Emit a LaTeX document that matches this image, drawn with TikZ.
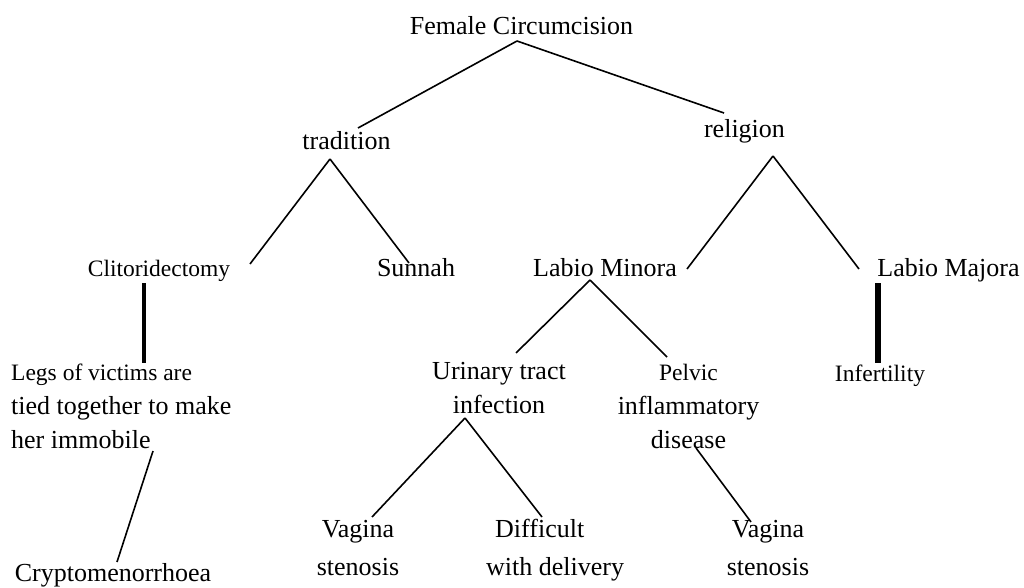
\documentclass[tikz,border=0pt]{standalone}
\usepackage{fontspec}
\setmainfont{Liberation Serif}
\usetikzlibrary{calc}
\begin{document}
\begin{tikzpicture}[
            x=1pt, y=1pt,
            every node/.style = {inner sep=0pt, anchor=base},
            lbl/.style = {font=\fontsize{26}{34}\selectfont},
            sml/.style = {font=\fontsize{23.5}{30}\selectfont},
            branch/.style = {line width=1.6pt},
            bar/.style = {line width=#1}
        ]
        \useasboundingbox (0,0) rectangle (1024,587);

        \node[lbl] (female) at (521.5,552) {Female Circumcision};
        \node[lbl] (tradition) at (346.5,437) {tradition};
        \node[lbl] (religion) at (744.5,449) {religion};
        \node[sml] (clito) at (159,311) {Clitoridectomy};
        \node[lbl] (sunnah) at (416,311) {Sunnah};
        \node[lbl] (minora) at (605,311) {Labio Minora};
        \node[lbl] (majora) at (948.5,311) {Labio Majora};
        \node[lbl, align=left, anchor=base west] (legs) at (11,139)
            {{\fontsize{23.5}{30}\selectfont Legs of victims are}\\tied together to make\\her immobile};
        \node[lbl] (crypto) at (113,6) {Cryptomenorrhoea};
        \node[lbl, align=center] (urinary) at (499,174) {Urinary tract\\infection};
        \node[lbl, align=center] (pelvic) at (688.5,139)
            {{\fontsize{23.5}{30}\selectfont Pelvic}\\inflammatory\\disease};
        \node[sml] (infert) at (880,206) {Infertility};
        \node[lbl, align=center] (stenosisA) at (358,12) {Vagina\\[4pt]stenosis};
        \node[lbl, align=left, anchor=base west] (delivery) at (486,12)
            {\hspace*{9pt}Difficult\\[4pt]with delivery};
        \node[lbl, align=center] (stenosisB) at (768,12) {Vagina\\[4pt]stenosis};

        \draw[branch] ($(female.base)+(-4.5,-6)$) -- ($(tradition.base)+(11.5,22)$);
        \draw[branch] ($(female.base)+(-4.5,-6)$) -- ($(religion.base)+(-20.5,25)$);
        \draw[branch] ($(tradition.base)+(-16.5,-9)$) -- ($(clito.base)+(91,12)$);
        \draw[branch] ($(tradition.base)+(-16.5,-9)$) -- ($(sunnah.base)+(-7,13)$);
        \draw[branch] ($(religion.base)+(28.5,-18)$) -- ($(minora.base)+(82,7)$);
        \draw[branch] ($(religion.base)+(28.5,-18)$) -- ($(majora.base)+(-89.5,7)$);
        \draw[bar=3.2pt] ($(clito.base)+(-15,-7)$) -- ($(legs.base west)+(133,85)$);
        \draw[bar=6pt] ($(majora.base)+(-70.5,-7)$) -- ($(infert.base)+(-2,18)$);
        \draw[branch] ($(minora.base)+(-15,-4)$) -- ($(urinary.base)+(17,60)$);
        \draw[branch] ($(minora.base)+(-15,-4)$) -- ($(pelvic.base)+(-21.5,91)$);
        \draw[branch] ($(urinary.base)+(-34,-5)$) -- ($(stenosisA.base)+(14,58)$);
        \draw[branch] ($(urinary.base)+(-34,-5)$) -- ($(delivery.base west)+(56,58)$);
        \draw[branch] ($(pelvic.base)+(7.5,0)$) -- ($(stenosisB.base)+(-17,53)$);
        \draw[branch] ($(legs.base west)+(142,-3)$) -- ($(crypto.base)+(4,19)$);

    \end{tikzpicture}
\end{document}
